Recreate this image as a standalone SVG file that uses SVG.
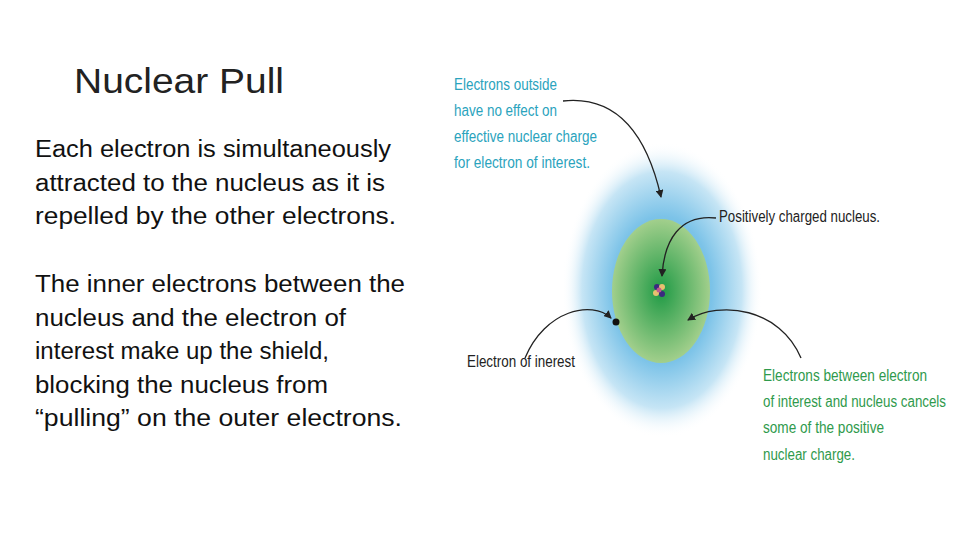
<svg xmlns="http://www.w3.org/2000/svg" width="960" height="540" viewBox="0 0 960 540">
<defs>
<radialGradient id="blue" cx="0.5" cy="0.5" r="0.5">
<stop offset="0" stop-color="#4aaedd"/><stop offset="0.5" stop-color="#7cc3e8"/><stop offset="0.8" stop-color="#c6e5f5"/><stop offset="1" stop-color="#ffffff" stop-opacity="0"/>
</radialGradient>
<radialGradient id="green" cx="0.5" cy="0.5" r="0.5">
<stop offset="0" stop-color="#1f9a45"/><stop offset="1" stop-color="#a2cf8c"/>
</radialGradient>
<marker id="ah" markerWidth="8" markerHeight="8" refX="7" refY="4" orient="auto" markerUnits="userSpaceOnUse">
<path d="M0,0 L8,4 L0,8 Z" fill="#222"/>
</marker>
<style>
.body{font-family:"Liberation Sans",Arial,sans-serif;font-size:23px;fill:#111}
.lab{font-family:"Liberation Sans",Arial,sans-serif;font-size:16px}
.blue{fill:#2aa3bd}.green{fill:#2f9a4c}.dark{fill:#222}
.con{fill:none;stroke:#222;stroke-width:1.3;marker-end:url(#ah)}
</style>
</defs>
<rect width="960" height="540" fill="#fff"/>
<text x="74" y="93" style="font-family:'Liberation Sans',Arial,sans-serif;font-size:35px;fill:#222" textLength="210" lengthAdjust="spacingAndGlyphs">Nuclear Pull</text>
<g id="text1">
<text class="body" x="35" y="157" textLength="356" lengthAdjust="spacingAndGlyphs">Each electron is simultaneously</text>
<text class="body" x="35" y="191" textLength="350" lengthAdjust="spacingAndGlyphs">attracted to the nucleus as it is</text>
<text class="body" x="35" y="224" textLength="361" lengthAdjust="spacingAndGlyphs">repelled by the other electrons.</text>
</g>
<g id="text2">
<text class="body" x="35" y="292" textLength="370" lengthAdjust="spacingAndGlyphs">The inner electrons between the</text>
<text class="body" x="35" y="326" textLength="311" lengthAdjust="spacingAndGlyphs">nucleus and the electron of</text>
<text class="body" x="35" y="359" textLength="294" lengthAdjust="spacingAndGlyphs">interest make up the shield,</text>
<text class="body" x="35" y="393" textLength="293" lengthAdjust="spacingAndGlyphs">blocking the nucleus from</text>
<text class="body" x="35" y="426" textLength="367" lengthAdjust="spacingAndGlyphs">“pulling” on the outer electrons.</text>
</g>
<g id="cloud"><ellipse cx="662" cy="290" rx="100" ry="148" fill="url(#blue)"/></g>
<g id="shield"><ellipse cx="661" cy="291" rx="49" ry="72" fill="url(#green)"/></g>
<g id="nucleus">
<circle cx="657" cy="287" r="3" fill="#3b2a80"/><circle cx="662" cy="287" r="3" fill="#e8c070"/>
<circle cx="656" cy="293" r="3" fill="#e8c070"/><circle cx="662" cy="294" r="3" fill="#3b2a80"/>
<circle cx="659" cy="290" r="2.5" fill="#c05a90"/>
</g>
<g id="electron"><circle cx="616" cy="322" r="3.5" fill="#111"/></g>
<g id="connectors">
<path class="con" d="M563,101 C620,95 648,140 661,197"/>
<path class="con" d="M716,218 C680,214 664,240 662,276"/>
<path class="con" d="M525,358 C545,310 592,300 611,318"/>
<path class="con" d="M801,358 C780,308 720,300 688,320"/>
</g>
<g id="label-outside">
<text class="lab blue" x="454" y="90" textLength="103" lengthAdjust="spacingAndGlyphs">Electrons outside</text>
<text class="lab blue" x="454" y="116" textLength="103" lengthAdjust="spacingAndGlyphs">have no effect on</text>
<text class="lab blue" x="454" y="142" textLength="143" lengthAdjust="spacingAndGlyphs">effective nuclear charge</text>
<text class="lab blue" x="454" y="168" textLength="136" lengthAdjust="spacingAndGlyphs">for electron of interest.</text>
</g>
<g id="label-nucleus"><text class="lab dark" x="719" y="222" textLength="161" lengthAdjust="spacingAndGlyphs">Positively charged nucleus.</text></g>
<g id="label-electron"><text class="lab dark" x="467" y="367" textLength="108" lengthAdjust="spacingAndGlyphs">Electron of inerest</text></g>
<g id="label-between">
<text class="lab green" x="763" y="381" textLength="164" lengthAdjust="spacingAndGlyphs">Electrons between electron</text>
<text class="lab green" x="763" y="407" textLength="183" lengthAdjust="spacingAndGlyphs">of interest and nucleus cancels</text>
<text class="lab green" x="763" y="433" textLength="121" lengthAdjust="spacingAndGlyphs">some of the positive</text>
<text class="lab green" x="763" y="460" textLength="92" lengthAdjust="spacingAndGlyphs">nuclear charge.</text>
</g>
</svg>
